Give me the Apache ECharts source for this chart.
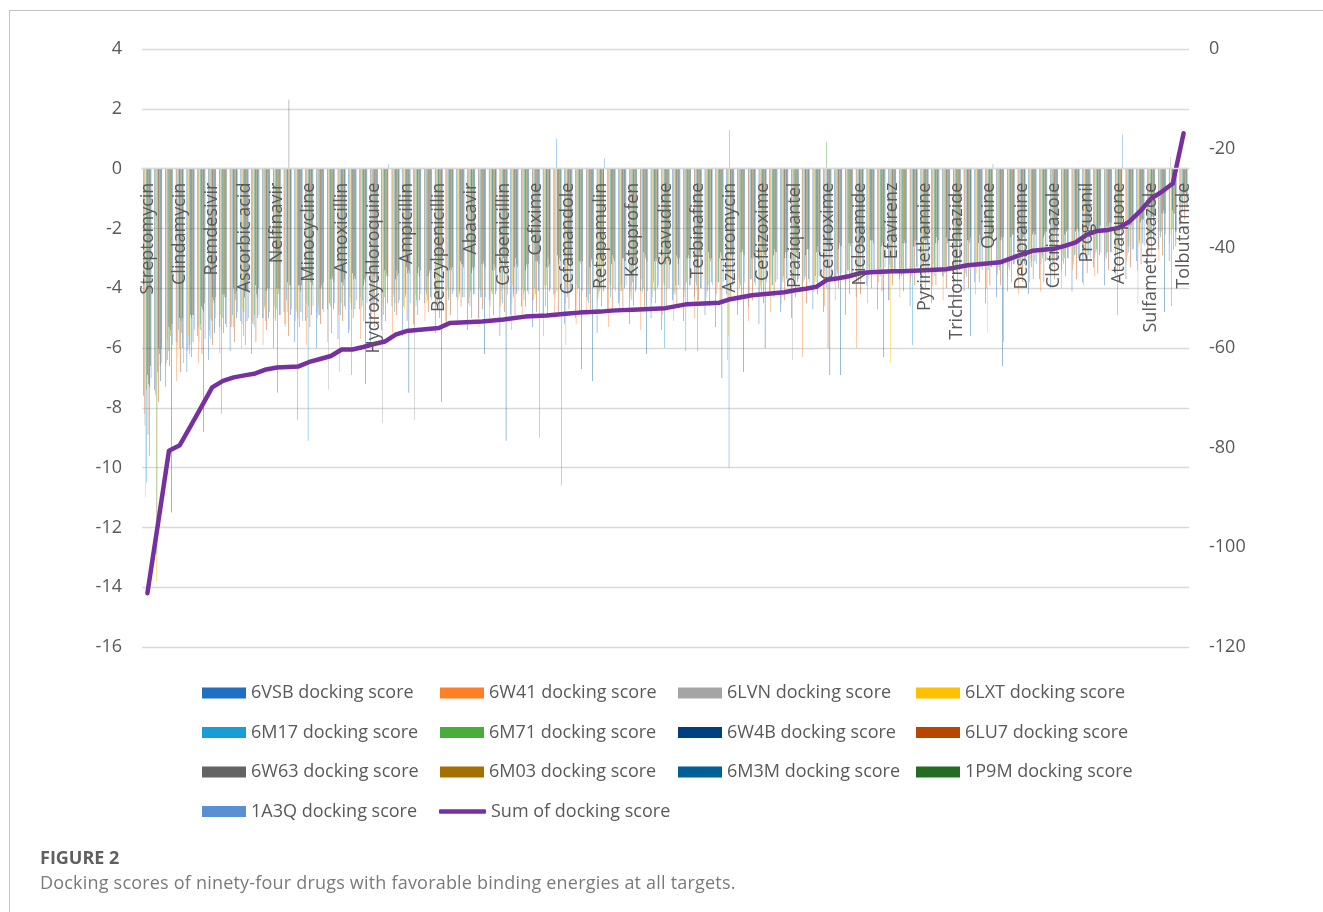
<!DOCTYPE html>
<html><head><meta charset="utf-8">
<script src="https://cdn.jsdelivr.net/npm/echarts/dist/echarts.min.js"></script>
<style>
html,body{margin:0;padding:0;background:#fff;}
#wrap{position:relative;width:1323px;height:912px;overflow:hidden;background:#fff;}
#chart{position:absolute;left:0;top:0;width:1323px;height:912px;}
#frame{position:absolute;left:9px;top:10px;width:1330px;height:920px;border-top:1px solid #c4c4c4;border-left:1px solid #c4c4c4;pointer-events:none;}
#fig{position:absolute;left:40px;top:845px;font-family:'Open Sans';font-weight:bold;font-size:18px;color:#5f5f5f;}
#cap{position:absolute;left:40px;top:870px;font-family:'Open Sans';font-size:18px;letter-spacing:0.2px;color:#7a7a7a;}
</style></head>
<body><div id="wrap"><div id="chart"></div><div id="frame"></div>
<div id="fig">FIGURE 2</div>
<div id="cap">Docking scores of ninety-four drugs with favorable binding energies at all targets.</div></div>
<script>
// Drugs shown on the axis (every third of 97 categories)
const labeledDrugs = ['Streptomycin','Clindamycin','Remdesivir','Ascorbic acid','Nelfinavir','Minocycline','Amoxicillin','Hydroxychloroquine','Ampicillin','Benzylpenicillin','Abacavir','Carbenicillin','Cefixime','Cefamandole','Retapamulin','Ketoprofen','Stavudine','Terbinafine','Azithromycin','Ceftizoxime','Praziquantel','Cefuroxime','Niclosamide','Efavirenz','Pyrimethamine','Trichlormethiazide','Quinine','Desipramine','Clotrimazole','Proguanil','Atovaquone','Sulfamethoxazole','Tolbutamide'];
const categoryCount = 97;

const s6VSB = [-7.6,-7.4,-7.3,-5.8,-6.8,-5.6,-6.4,-5.3,-6.1,-5.1,
-6.2,-5.0,-6.0,-4.8,-5.8,-5.1,-6.0,-4.7,-5.7,-5.5,
-4.7,-5.8,-5.4,-4.6,-5.6,-5.2,-4.5,-5.5,-5.1,-4.3,
-5.4,-5.0,-4.4,-5.6,-4.9,-4.6,-5.3,-4.9,-4.2,-5.2,
-5.0,-4.3,-5.5,-4.8,-4.5,-5.2,-4.1,-5.0,-5.4,-4.4,
-5.1,-4.3,-4.9,-5.3,-4.2,-4.9,-4.6,-5.2,-4.1,-4.8,
-5.0,-4.0,-4.7,-4.8,-3.8,-4.9,-4.3,-3.9,-4.7,-4.4,
-3.7,-4.6,-4.2,-4.5,-3.6,-4.4,-4.1,-3.8,-4.5,-4.3,
-4.1,-3.6,-4.2,-3.7,-4.0,-3.4,-4.1,-3.8,-3.3,-3.9,
-3.5,-3.7,-3.1,-3.3,-2.7,-3.1,-1.9];
const s6W41 = [-8.2,-7.5,-6.6,-7.1,-6.1,-6.5,-5.4,-6.2,-5.3,-6.0,
-5.2,-5.9,-5.0,-5.2,-5.1,-5.9,-4.8,-5.8,-4.9,-5.4,
-5.7,-4.8,-5.0,-5.5,-4.6,-5.4,-5.1,-4.6,-5.3,-5.2,
-4.5,-5.3,-5.0,-4.6,-5.4,-4.9,-4.4,-5.6,-5.0,-4.5,
-5.2,-4.9,-4.4,-5.3,-4.8,-4.3,-5.4,-4.5,-4.9,-5.1,
-4.3,-5.0,-4.6,-4.2,-6.4,-4.5,-5.1,-4.2,-4.8,-4.5,
-4.2,-6.3,-4.1,-4.6,-4.4,-3.9,-6.0,-4.5,-3.8,-4.4,
-4.3,-3.8,-4.5,-3.9,-4.4,-4.1,-3.7,-4.2,-4.0,-3.6,
-3.6,-4.2,-3.8,-4.1,-3.5,-4.0,-3.4,-3.9,-3.6,-3.1,
-3.6,-3.1,-3.4,-2.8,-3.1,-2.5,-1.8];
const s6LVN = [-8.6,-7.6,-6.5,-5.9,-6.0,-5.3,-5.6,-4.9,-5.3,-5.2,
-5.1,-5.0,-4.6,-5.3,-4.7,-4.5,-5.0,-7.4,-6.8,-4.3,
-4.3,-4.9,-8.5,-4.2,-4.6,-8.4,-4.1,-4.6,-4.0,-4.4,
-4.5,-4.0,-4.6,-4.1,-4.5,-4.0,-4.4,-3.9,-4.3,-5.9,
-3.9,-4.4,-4.2,-3.8,-4.4,-4.1,-3.7,-4.3,-3.9,-4.2,
-4.1,-3.8,-4.3,-3.8,-4.0,-3.7,-4.2,-3.9,-3.6,-4.0,
-6.4,-3.8,-3.9,-3.4,-3.7,-3.6,-3.3,-3.7,-3.5,-3.2,
-3.5,-3.6,-3.2,-3.5,-3.6,-3.2,-3.5,-3.3,-3.1,-3.5,
-3.3,-3.1,-3.3,-3.2,-2.9,-3.1,-3.2,-2.7,-3.0,-2.9,
-2.6,-2.9,-4.5,-2.4,-2.1,0.4,-1.5];
const s6LXT = [-11.0,-13.8,-5.7,-6.3,-5.6,-5.8,-5.0,-5.4,-5.2,-4.7,
-5.2,-4.7,-5.0,-5.2,-4.8,-5.0,-4.6,-4.5,-4.8,-4.5,
-4.7,-4.4,-4.6,-4.3,-4.7,-4.2,-4.5,-4.4,-4.1,-4.3,
-4.3,-4.1,-4.2,-4.4,-3.9,-4.2,-4.3,-4.0,-4.2,-4.0,
-4.2,-3.9,-4.3,-4.0,-4.1,-3.9,-4.2,-4.0,-3.8,-4.1,
-3.9,-4.1,-3.7,-4.0,-5.6,-3.8,-3.7,-4.0,-3.9,-3.7,
-3.8,-3.6,-3.8,-3.7,-3.4,-3.6,-3.5,-3.3,-3.6,-6.5,
-3.3,-3.5,-3.4,-3.2,-3.5,-3.3,-3.2,-3.5,-5.5,-3.2,
-3.2,-3.3,-3.0,-3.2,-3.1,-2.9,-3.1,-2.8,-2.9,-2.8,
-2.8,-2.6,-2.6,-2.2,-2.3,-2.2,-1.1];
const s6M17 = [-10.5,-12.9,-6.4,-5.4,-6.2,-5.2,-5.7,-8.2,-4.9,-5.6,
-5.3,-4.6,-5.1,-4.4,-8.4,-9.1,-4.9,-4.5,-4.9,-6.9,
-4.6,-4.5,-4.9,-4.8,-4.3,-4.6,-4.2,-4.5,-4.4,-4.1,
-4.6,-4.3,-4.1,-4.5,-4.2,-4.4,-4.0,-4.6,1.0,-4.3,
-4.0,-4.5,-4.1,-4.3,-3.9,-4.4,-4.1,-3.8,-6.0,-4.2,
-6.1,-3.9,-4.1,-3.8,-10.0,-4.0,-3.7,-4.2,-3.9,-3.8,
-3.9,-3.7,-3.6,-4.0,-3.6,-3.4,-3.8,-3.5,-3.6,-3.3,
-3.6,-5.9,-3.3,-3.6,-3.5,-3.4,-3.6,-3.2,-3.4,-3.3,
-3.4,-3.2,-3.3,-2.9,-3.3,-3.2,-2.9,-3.0,-2.8,-3.0,
-4.9,-2.8,-2.5,-2.4,-2.3,-4.6,-1.4];
const s6M71 = [-7.4,-6.8,-6.1,-6.0,-5.9,-5.4,-5.1,-5.0,-5.3,-4.8,
-4.9,-5.1,-4.7,-4.8,-5.0,-4.6,-4.9,-4.6,-4.5,-4.7,
-4.4,-4.8,-4.3,-4.5,-4.2,-4.4,-4.4,-4.1,-4.3,-4.2,
-4.1,-4.3,-4.2,-4.0,-4.3,-4.1,-4.2,-3.9,-4.1,-4.2,
-4.0,-4.2,-4.0,-3.9,-4.1,-3.8,-4.0,-4.1,-3.9,-3.9,
-3.8,-6.1,-3.9,-3.8,1.3,-3.9,-3.7,-3.8,-3.9,-3.6,
-3.7,-3.6,-3.8,0.9,-3.5,-3.4,-3.5,-3.4,-3.3,-3.5,
-3.4,-3.3,-3.5,-3.4,-3.3,-3.5,-3.2,-3.3,-3.2,-3.4,
-3.1,-3.3,-3.1,-3.0,-3.2,-3.0,-2.9,-3.0,-2.7,-2.8,
-2.7,-2.6,-2.4,-2.3,-2.1,-2.0,-1.2];
const s6W4B = [-6.9,-6.0,-5.3,-5.0,-4.9,-4.6,-4.3,-4.2,-4.0,-4.3,
-3.9,-4.1,-4.0,-3.8,-3.9,-3.6,-4.0,-3.7,-3.8,-3.5,
-3.9,-3.6,-3.4,-3.7,-3.3,-3.5,-3.6,-3.2,-3.4,-3.1,
-3.5,-3.2,-3.4,-3.0,-3.3,-3.4,-3.1,-3.3,-2.9,-3.2,
-3.1,-3.3,-2.9,-3.2,-3.0,-3.2,-2.8,-3.1,-3.2,-2.9,
-3.0,-3.1,-2.8,-3.0,-2.9,-2.8,-3.0,-2.7,-2.9,-3.0,
-2.7,-2.9,-2.8,-2.6,-2.7,-2.5,-2.7,-2.4,-2.6,-2.5,
-2.5,-2.6,-2.4,-2.5,-2.3,-2.6,-2.4,-2.5,-2.3,-2.4,
-2.3,-2.4,-2.2,-2.3,-2.1,-2.2,-2.1,-2.0,-2.1,-1.9,
-2.0,-1.9,-1.8,-1.6,-1.5,-1.4,-0.9];
const s6LU7 = [-8.9,-7.8,-6.6,-6.8,-6.3,-6.2,-5.9,-5.5,-5.8,-5.9,
-5.8,-5.4,-7.5,-5.6,-5.3,-5.3,-5.2,-5.5,-5.1,-5.0,
-5.1,-5.3,-5.1,-4.9,-5.1,-4.9,-4.8,-5.0,-4.9,-4.6,
-5.0,-4.7,-4.9,-4.8,-4.9,-4.6,-4.8,-4.9,-4.8,-4.7,
-4.9,-4.7,-4.6,-4.7,-4.7,-4.6,-4.7,-4.5,-4.6,-4.6,
-4.6,-4.4,-4.6,-4.5,-4.4,-4.3,-4.4,-4.5,-4.3,-4.4,
-4.3,-4.5,-4.2,-6.0,-4.0,-4.2,-4.2,-4.0,-4.1,-3.9,
-4.1,-3.9,-4.0,-3.9,-4.0,-3.9,-4.0,-3.8,-3.9,-3.9,
-3.8,-3.8,-3.7,-3.8,-3.7,-3.6,-3.7,-3.5,-3.5,-3.4,
-3.4,-3.3,-3.2,-2.9,-2.9,-2.7,-1.7];
const s6W63 = [-7.2,-6.2,-5.4,-5.1,-5.0,-4.7,-4.4,-4.3,-4.2,-4.1,
-4.2,-4.0,-4.0,2.3,-3.9,-3.8,-3.9,-3.6,-3.8,-3.7,
-3.7,-3.5,-3.6,-3.4,-3.5,-3.3,-3.4,-3.2,-3.3,-3.2,
-3.3,-3.1,-3.2,-3.2,-3.0,-3.2,-3.1,-3.0,-3.2,-2.9,
-3.1,-3.0,-3.1,-2.9,-3.0,-3.1,-2.9,-3.0,-2.8,-3.0,
-2.9,-2.8,-3.0,-2.8,-2.9,-2.7,-2.9,-2.8,-2.7,-2.8,
-2.8,-2.7,-2.6,-2.7,-2.5,-2.6,-2.5,-2.4,-2.5,-2.4,
-2.5,-2.4,-2.4,-2.3,-2.5,-2.3,-2.4,-2.2,-2.3,-2.3,
-2.2,-2.3,-2.1,-2.2,-2.0,-2.1,-2.0,-1.9,-2.0,-1.8,
-1.9,-1.8,-1.7,-1.6,-1.4,-1.5,-0.8];
const s6M03 = [-9.6,-6.6,-5.6,-5.5,-4.9,-4.8,-4.5,-4.2,-4.4,-4.1,
-4.3,-4.0,-4.2,-3.9,-4.1,-3.8,-4.0,-3.7,-3.9,-3.6,
-3.8,-3.7,-3.5,-3.6,-3.4,-3.6,-3.5,-3.3,-3.4,-3.2,
-3.4,-3.2,-3.4,-3.3,-3.2,-3.3,-3.1,-3.3,-3.0,-3.3,
-3.2,-3.1,-3.3,-3.0,-3.1,-3.2,-3.0,-3.1,-3.0,-3.2,
-3.0,-2.9,-3.1,-2.9,-3.0,-2.8,-3.0,-2.9,-2.8,-3.0,
-2.9,-2.7,-2.8,-2.7,-2.6,-2.5,-2.6,-2.4,-2.6,-2.5,
-2.4,-2.6,-2.4,-2.5,-2.4,-2.4,-2.5,-2.4,-2.3,-2.4,
-2.2,-2.3,-2.2,-2.1,-2.2,-2.1,-2.0,-2.0,-1.9,-2.0,
-1.9,-1.9,-1.7,-1.6,-1.5,-1.5,-0.8];
const s6M3M = [-7.3,-7.1,-11.5,-6.0,-5.8,-8.8,-5.5,-5.2,-5.0,-5.1,
-5.0,-5.0,-4.9,-4.9,-4.8,-4.9,-4.7,-4.7,-4.6,-4.7,
-7.2,-4.6,-4.5,-4.5,-7.5,-4.4,-4.3,-7.8,-4.2,-4.3,
-4.2,-6.2,-4.2,-9.1,-4.2,-4.1,-4.1,-4.1,-4.0,-4.1,
-6.7,-7.1,-4.1,-4.0,-4.0,-4.1,-6.2,-4.0,-4.0,-3.9,
-3.9,-4.0,-3.8,-7.0,-3.9,-6.8,-3.8,-6.0,-3.8,-3.7,
-3.8,-3.7,-3.6,-6.9,-6.9,-3.5,-3.4,-3.5,-6.3,-3.4,
-3.4,-3.3,-3.4,-3.4,-3.3,-3.4,-5.6,-3.3,-3.3,-6.6,
-3.2,-3.2,-3.1,-3.1,-3.1,-3.0,-3.0,-2.9,-2.9,-2.8,
-2.8,-2.7,-2.5,-2.4,-4.8,-2.1,-1.3];
const s1P9M = [-6.6,-6.0,-5.2,-5.0,-4.9,-4.5,-4.3,-4.3,-4.1,-4.1,
-4.0,-4.0,-4.0,-3.9,-3.9,-3.9,-3.8,-3.8,-3.7,-3.7,
-3.6,-3.7,-3.6,-3.5,-3.5,-3.4,-3.4,-3.4,-3.3,-3.3,
-3.3,-3.3,-3.3,-3.2,-3.3,-3.2,-3.2,-3.2,-3.1,-3.2,
-3.1,-3.2,-3.1,-3.1,-3.1,-3.0,-3.1,-3.0,-3.1,-3.0,
-3.0,-2.9,-3.0,-3.0,-2.9,-2.9,-2.8,-2.9,-2.8,-2.8,
-2.8,-2.7,-2.8,-2.6,-2.6,-2.5,-2.6,-2.5,-2.5,-2.4,
-2.5,-2.4,-2.5,-2.4,-2.4,-2.4,-2.3,-2.4,-2.3,-2.3,
-2.2,-2.2,-2.2,-2.1,-2.1,-2.0,-2.1,-1.9,-1.9,-1.8,
-1.8,-1.7,-1.7,-1.5,-1.5,-2.6,-0.9];
const s1A3Q = [-7.0,-6.5,-5.9,-6.5,-5.4,-5.7,-5.0,-5.3,-4.8,-5.0,
-4.9,-4.8,-4.9,-4.7,-5.1,-4.6,-4.8,-4.5,-4.7,-4.4,
-4.5,-4.7,0.15,-4.4,-4.5,-4.2,-4.4,-4.3,-4.1,-4.3,
-4.2,-4.3,-4.1,-4.2,-4.1,-4.2,-9.0,-4.0,-10.6,-4.1,
-4.1,-4.0,0.35,-4.1,-3.9,-4.0,-4.1,-3.9,-4.0,-4.0,
-3.9,-4.0,-3.9,-3.8,-3.9,-3.8,-3.9,-3.8,-3.7,-3.8,
-3.7,-3.8,-3.6,-3.6,-3.5,-3.6,-3.4,-3.5,-3.3,-3.4,
-3.4,-3.3,-3.5,-3.3,-3.4,-3.2,-3.3,-3.4,0.15,-5.8,
-3.2,-3.1,-3.2,-3.0,-3.1,-3.0,-2.9,-3.0,-2.8,-2.8,
1.15,-2.7,-2.6,-2.3,-2.2,-2.1,-1.3];
const sumScore = [-109.2,-95.0,-80.6,-79.5,-75.7,-71.8,-67.9,-66.6,-65.9,-65.5,
-65.1,-64.3,-63.9,-63.8,-63.7,-62.8,-62.2,-61.6,-60.3,-60.3,
-59.8,-59.2,-58.7,-57.3,-56.6,-56.4,-56.2,-56.0,-55.0,-54.9,
-54.8,-54.7,-54.5,-54.3,-54.0,-53.7,-53.6,-53.5,-53.3,-53.1,
-52.9,-52.8,-52.7,-52.5,-52.4,-52.3,-52.2,-52.1,-52.0,-51.6,
-51.2,-51.1,-51.0,-50.9,-50.2,-49.8,-49.4,-49.2,-49.0,-48.8,
-48.4,-48.1,-47.7,-46.3,-46.0,-45.6,-45.0,-44.8,-44.7,-44.6,
-44.6,-44.5,-44.4,-44.3,-44.2,-43.8,-43.4,-43.2,-43.0,-42.8,
-42.0,-41.2,-40.5,-40.3,-40.1,-39.5,-38.8,-37.3,-36.5,-36.3,
-35.9,-34.6,-32.5,-30.0,-28.6,-27.0,-16.9];

const barSeriesNames = ['6VSB docking score','6W41 docking score','6LVN docking score','6LXT docking score','6M17 docking score','6M71 docking score','6W4B docking score','6LU7 docking score','6W63 docking score','6M03 docking score','6M3M docking score','1P9M docking score','1A3Q docking score'];
const barSeriesData = [s6VSB,s6W41,s6LVN,s6LXT,s6M17,s6M71,s6W4B,s6LU7,s6W63,s6M03,s6M3M,s1P9M,s1A3Q];
const barColors = ['#1F6FC5','#FF7F27','#A5A5A5','#FFC000','#1A9CD8','#48AD3A','#003F7F','#B84500','#636363','#A47100','#005F96','#246B24','#5A8FD3'];
const sumName = 'Sum of docking score';
const sumColor = '#7630A0';
const leftTicks = {min:-16, max:4, interval:2};
const rightTicks = {min:-120, max:0, interval:20};

const categories = [];
for (let i = 0; i < categoryCount; i++) categories.push(i % 3 === 0 ? labeledDrugs[i / 3] : '');

const FONT = 'Open Sans';
const TXT = '#595959';
const GRID = {left: 142, top: 49, width: 1047, height: 598};
// pixel distance from the grid bottom up to the value-0 line of the left axis
const zeroOffset = -GRID.height * (0 - leftTicks.min) / (leftTicks.max - leftTicks.min);

const series = barSeriesData.map((d, k) => ({
  name: barSeriesNames[k], type: 'bar', data: d, yAxisIndex: 0,
  barGap: '50%', barCategoryGap: '28%', barMinWidth: 0.1,
  itemStyle: {color: barColors[k]}, z: 2, emphasis: {disabled: true}
}));
series.push({
  name: sumName, type: 'line', data: sumScore, yAxisIndex: 1, symbol: 'none',
  lineStyle: {width: 4.5, color: sumColor, cap: 'round', join: 'round'},
  itemStyle: {color: sumColor}, z: 3, emphasis: {disabled: true}
});

const legendNames = barSeriesNames.concat([sumName]);
const colX = [202, 440, 678, 916];
const rowY = [693, 732.5, 772, 811.5];
const legends = legendNames.map((n, k) => {
  const isLine = n === sumName;
  return {
    data: [n], left: colX[k % 4] - (isLine ? 1 : 0), top: rowY[Math.floor(k / 4)] - 9,
    orient: 'horizontal', padding: 0, itemGap: 0,
    itemWidth: isLine ? 47 : 44, itemHeight: isLine ? 4.5 : 11,
    icon: isLine ? 'roundRect' : 'rect',
    textStyle: {fontFamily: FONT, fontSize: 18, color: TXT},
    selectedMode: false
  };
});

const chart = echarts.init(document.getElementById('chart'), null, {renderer: 'canvas'});
chart.setOption({
  animation: false,
  backgroundColor: 'transparent',
  textStyle: {fontFamily: FONT},
  legend: legends,
  grid: {left: GRID.left, top: GRID.top, width: GRID.width, height: GRID.height, containLabel: false, outerBoundsMode: 'none'},
  xAxis: {
    type: 'category', data: categories, boundaryGap: true, z: 5,
    position: 'bottom', offset: zeroOffset,
    axisLine: {show: true, onZero: false, lineStyle: {color: '#d9d9d9', width: 1.3}},
    axisTick: {show: false}, splitLine: {show: false},
    axisLabel: {interval: 2, rotate: 90, margin: 14, fontSize: 18, color: TXT, fontFamily: FONT}
  },
  yAxis: [
    {type: 'value', min: leftTicks.min, max: leftTicks.max, interval: leftTicks.interval,
     axisLine: {show: false}, axisTick: {show: false},
     splitLine: {show: true, lineStyle: {color: '#d9d9d9', width: 1.3}},
     axisLabel: {margin: 20, fontSize: 18, color: TXT, fontFamily: FONT}},
    {type: 'value', position: 'right', min: rightTicks.min, max: rightTicks.max, interval: rightTicks.interval,
     axisLine: {show: false}, axisTick: {show: false}, splitLine: {show: false},
     axisLabel: {margin: 20, fontSize: 18, color: TXT, fontFamily: FONT}}
  ],
  series: series
});
</script></body></html>
